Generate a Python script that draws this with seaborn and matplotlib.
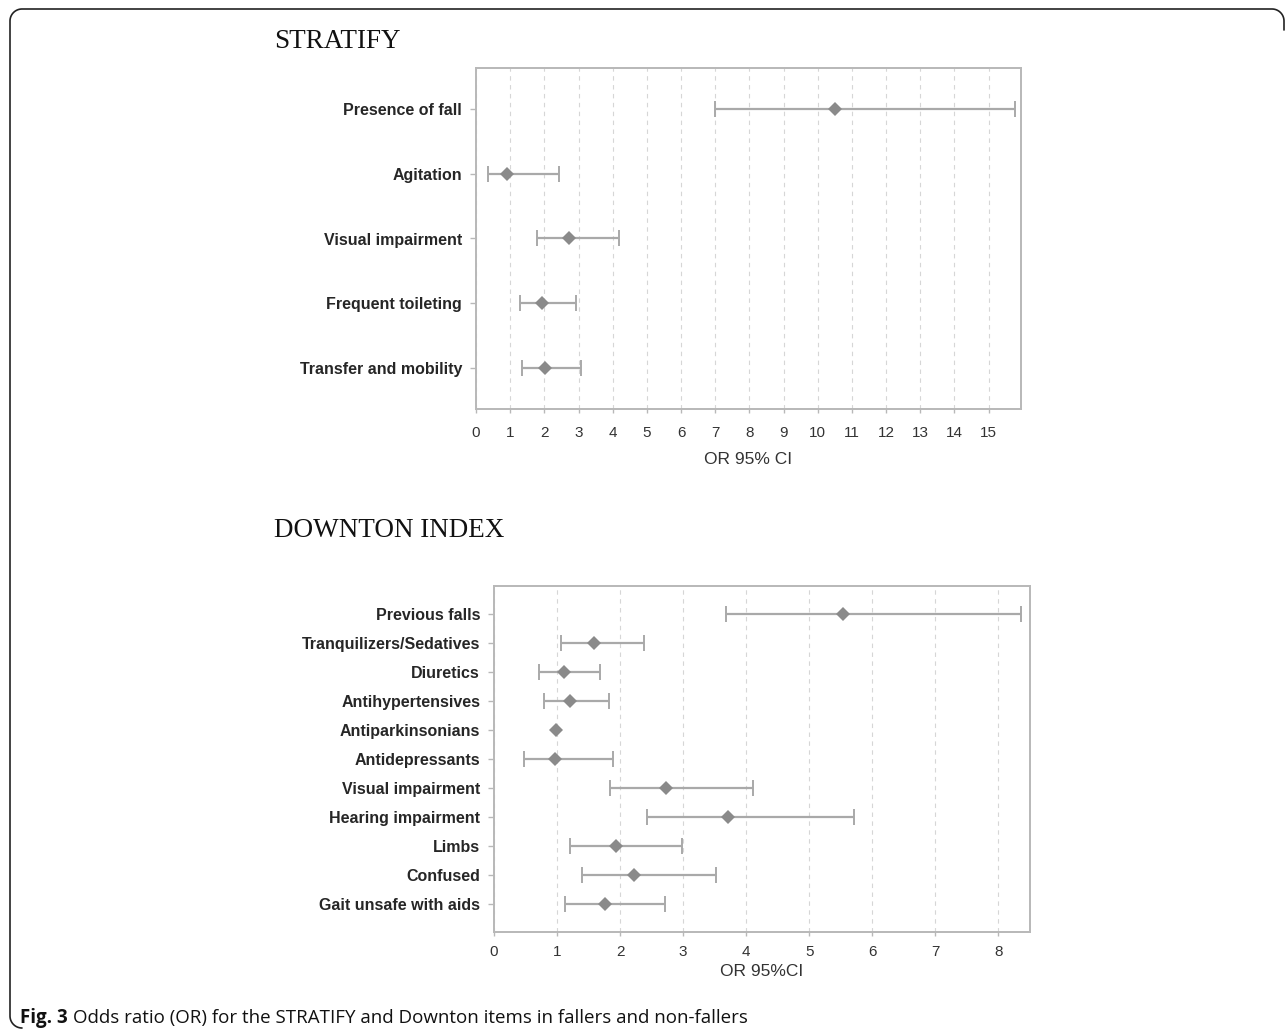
import numpy as np
import pandas as pd
import matplotlib
matplotlib.use("Agg")
import matplotlib.pyplot as plt
from matplotlib.lines import Line2D
import seaborn as sns

sns.set_theme(style="white")
plt.rcParams["font.family"] = ["Liberation Sans", "DejaVu Sans"]

# STRATIFY items: odds ratio and 95% CI
stratify_items = ["Presence of fall", "Agitation", "Visual impairment",
                  "Frequent toileting", "Transfer and mobility"]
stratify_or = [10.5, 0.92, 2.72, 1.93, 2.02]
stratify_lo = [7.0, 0.34, 1.78, 1.29, 1.35]
stratify_hi = [15.76, 2.43, 4.18, 2.94, 3.08]

# Downton index items
downton_items = ["Previous falls", "Tranquilizers/Sedatives", "Diuretics",
                 "Antihypertensives", "Antiparkinsonians", "Antidepressants",
                 "Visual impairment", "Hearing impairment", "Limbs",
                 "Confused", "Gait unsafe with aids"]
downton_or = [5.53, 1.59, 1.11, 1.21, 0.98, 0.97, 2.73, 3.71, 1.94, 2.22, 1.76]
downton_lo = [3.68, 1.06, 0.72, 0.80, np.nan, 0.48, 1.84, 2.42, 1.21, 1.40, 1.13]
downton_hi = [8.35, 2.38, 1.68, 1.82, np.nan, 1.88, 4.11, 5.71, 2.98, 3.52, 2.71]

W, H = 1287, 1029
MARK = "#8a8a8a"
BAR = "#a9a9a9"
FRAME = "#b8b8b8"


def forest(ax, items, odds, lo, hi, xmax, ticks, xlabel, ms, cap, tpad, lpad, ypad):
    df = pd.DataFrame({"item": items, "odds": odds, "lo": lo, "hi": hi})
    sns.pointplot(data=df, x="odds", y="item", orient="h", linestyle="none",
                  markers="D", color=MARK, markersize=ms, markeredgewidth=0,
                  errorbar=None, zorder=4, ax=ax)
    ci = df.dropna()
    ax.errorbar(ci["odds"], ci.index, xerr=[ci["odds"] - ci["lo"], ci["hi"] - ci["odds"]],
                fmt="none", ecolor=BAR, elinewidth=1.6, capsize=cap, capthick=1.4, zorder=3)
    n = len(items)
    ax.set_ylim(n - 1 + ypad, -ypad)
    ax.set_xlim(0, xmax)
    ax.set_xticks(ticks)
    ax.xaxis.grid(True, color="#d6d6d6", linestyle=(0, (4, 4)), linewidth=0.8)
    ax.yaxis.grid(False)
    ax.set_axisbelow(True)
    for s in ax.spines.values():
        s.set_visible(True)
        s.set_color(FRAME)
        s.set_linewidth(1.4)
    ax.tick_params(axis="x", length=3, width=1, color=FRAME, pad=tpad,
                   labelsize=11, labelcolor="#333333", bottom=True)
    ax.tick_params(axis="y", length=4, width=1, color=FRAME, pad=6,
                   labelsize=11.5, labelcolor="#262626", left=True)
    for t in ax.get_yticklabels():
        t.set_fontweight("bold")
    ax.set_ylabel("")
    ax.set_xlabel(xlabel, fontsize=12.5, color="#333333", labelpad=lpad)


fig = plt.figure(figsize=(W / 100, H / 100), dpi=100)

ax1 = fig.add_axes([476 / W, 1 - 409 / H, (1021 - 476) / W, (409 - 68) / H])
forest(ax1, stratify_items, stratify_or, stratify_lo, stratify_hi, 15.95,
       range(16), "OR 95% CI", 7, 6, 9, 9, 0.64)

ax2 = fig.add_axes([494 / W, 1 - 932 / H, (1030 - 494) / W, (932 - 586) / H])
forest(ax2, downton_items, downton_or, downton_lo, downton_hi, 8.5,
       range(9), "OR 95%CI", 7.5, 5.5, 6, 4, 0.98)

serif = ["Liberation Serif", "DejaVu Serif"]
fig.text(274 / W, 1 - 48 / H, "STRATIFY", family=serif, size=19.5,
         color="#111111", va="baseline")
fig.text(274 / W, 1 - 537 / H, "DOWNTON INDEX", family=serif, size=19.5,
         color="#111111", va="baseline")

# caption with bold figure number
cap_font = ["Open Sans", "DejaVu Sans"]
t1 = fig.text(20 / W, 1 - 1023 / H, "Fig. 3", family=cap_font, weight="bold",
              size=13.5, color="#111111", va="baseline")
fig.canvas.draw()
bb = t1.get_window_extent(fig.canvas.get_renderer())
fig.text(bb.x1 / W + 5 / W, 1 - 1023 / H,
         "Odds ratio (OR) for the STRATIFY and Downton items in fallers and non-fallers",
         family=cap_font, size=13.5, color="#111111", va="baseline")

# rounded frame around the figure: left edge, top edge, short right stub
r = 12
th = np.linspace(0, np.pi / 2, 20)
fx = ([10 + r - r * np.cos(a) for a in th[::-1]] + [10]
      + [10 + r - r * np.cos(a) for a in th]
      + [1284 - r + r * np.sin(a) for a in th] + [1284])
fy = ([1028 - r + r * np.sin(a) for a in th[::-1]] + [9 + r]
      + [9 + r - r * np.sin(a) for a in th]
      + [9 + r - r * np.cos(a) for a in th] + [30])
fig.add_artist(Line2D(np.array(fx) / W, 1 - np.array(fy) / H,
                      transform=fig.transFigure, color="#222222", linewidth=1.2))

fig.savefig("out.png", dpi=100)
